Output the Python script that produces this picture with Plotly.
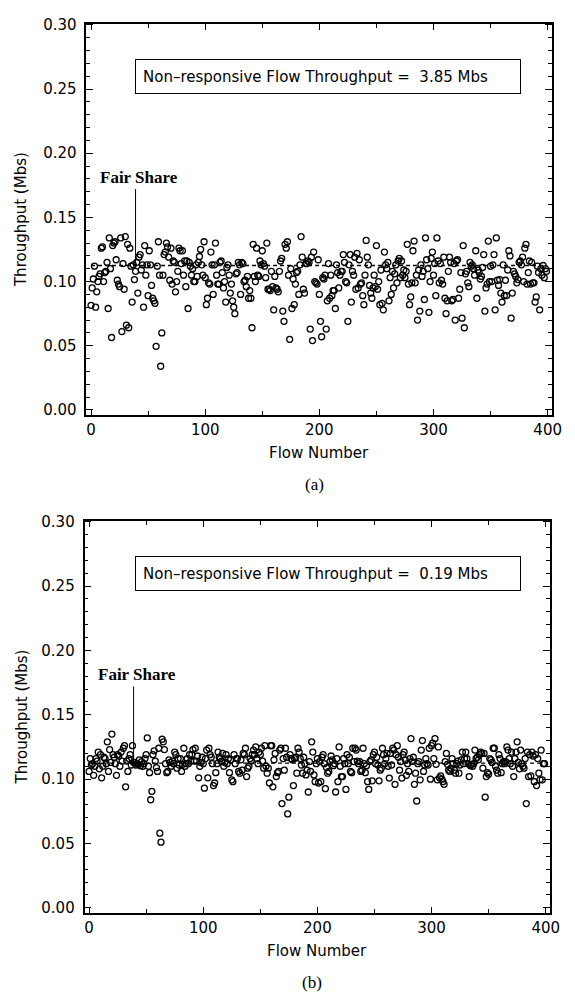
import plotly.graph_objects as go

# ---------------- data ----------------
flows = list(range(400))

throughput_a = [
    0.0815, 0.095, 0.102, 0.112, 0.080, 0.092, 0.100, 0.104, 0.106, 0.126,
    0.127, 0.100, 0.107, 0.108, 0.115, 0.079, 0.134, 0.110, 0.0564, 0.128,
    0.130, 0.131, 0.117, 0.101, 0.098, 0.096, 0.134, 0.061, 0.114, 0.094,
    0.135, 0.066, 0.129, 0.064, 0.126, 0.112, 0.084, 0.113, 0.1015, 0.108,
    0.115, 0.091, 0.119, 0.121, 0.109, 0.113, 0.080, 0.128, 0.105, 0.113,
    0.089, 0.124, 0.113, 0.097, 0.087, 0.085, 0.083, 0.0495, 0.112, 0.131,
    0.105, 0.034, 0.060, 0.105, 0.121, 0.123, 0.130, 0.127, 0.119, 0.101,
    0.126, 0.098, 0.116, 0.115, 0.092, 0.100, 0.108, 0.126, 0.124, 0.114,
    0.124, 0.105, 0.116, 0.096, 0.116, 0.079, 0.115, 0.112, 0.105, 0.110,
    0.100, 0.100, 0.113, 0.104, 0.115, 0.1195, 0.125, 0.113, 0.105, 0.131,
    0.103, 0.082, 0.087, 0.099, 0.098, 0.123, 0.113, 0.090, 0.113, 0.130,
    0.105, 0.098, 0.098, 0.115, 0.116, 0.107, 0.095, 0.100, 0.084, 0.111,
    0.113, 0.105, 0.091, 0.098, 0.085, 0.080, 0.075, 0.106, 0.107, 0.115,
    0.113, 0.090, 0.115, 0.114, 0.100, 0.101, 0.096, 0.104, 0.087, 0.093,
    0.087, 0.064, 0.129, 0.104, 0.100, 0.126, 0.105, 0.104, 0.116, 0.113,
    0.124, 0.114, 0.112, 0.103, 0.130, 0.094, 0.094, 0.093, 0.108, 0.096,
    0.078, 0.104, 0.095, 0.094, 0.092, 0.108, 0.116, 0.118, 0.077, 0.069,
    0.129, 0.126, 0.131, 0.105, 0.055, 0.110, 0.079, 0.102, 0.082, 0.098,
    0.107, 0.108, 0.090, 0.113, 0.135, 0.119, 0.094, 0.091, 0.114, 0.114,
    0.116, 0.115, 0.063, 0.119, 0.054, 0.123, 0.100, 0.099, 0.098, 0.117,
    0.090, 0.069, 0.057, 0.103, 0.102, 0.105, 0.063, 0.085, 0.114, 0.087,
    0.105, 0.089, 0.093, 0.093, 0.079, 0.113, 0.107, 0.095, 0.105, 0.108,
    0.108, 0.121, 0.115, 0.100, 0.099, 0.069, 0.113, 0.121, 0.084, 0.108,
    0.105, 0.119, 0.094, 0.122, 0.095, 0.117, 0.098, 0.099, 0.089, 0.082,
    0.105, 0.132, 0.119, 0.113, 0.097, 0.091, 0.087, 0.095, 0.105, 0.096,
    0.128, 0.094, 0.100, 0.082, 0.109, 0.083, 0.078, 0.123, 0.113, 0.110,
    0.115, 0.085, 0.103, 0.090, 0.108, 0.095, 0.106, 0.113, 0.099, 0.116,
    0.118, 0.103, 0.116, 0.105, 0.109, 0.103, 0.108, 0.129, 0.098, 0.082,
    0.088, 0.099, 0.124, 0.1315, 0.099, 0.105, 0.070, 0.109, 0.077, 0.113,
    0.104, 0.108, 0.086, 0.134, 0.117, 0.110, 0.076, 0.100, 0.118, 0.123,
    0.105, 0.114, 0.089, 0.134, 0.116, 0.099, 0.114, 0.101, 0.098, 0.119,
    0.087, 0.075, 0.085, 0.108, 0.119, 0.115, 0.085, 0.086, 0.114, 0.070,
    0.116, 0.117, 0.087, 0.094, 0.107, 0.0715, 0.128, 0.064, 0.106, 0.108,
    0.099, 0.096, 0.115, 0.112, 0.113, 0.110, 0.105, 0.124, 0.087, 0.109,
    0.107, 0.102, 0.104, 0.111, 0.121, 0.077, 0.095, 0.098, 0.1315, 0.100,
    0.112, 0.100, 0.113, 0.121, 0.078, 0.134, 0.101, 0.097, 0.1015, 0.091,
    0.084, 0.113, 0.089, 0.101, 0.089, 0.109, 0.124, 0.120, 0.0715, 0.091,
    0.108, 0.106, 0.104, 0.099, 0.1015, 0.115, 0.116, 0.113, 0.119, 0.100,
    0.126, 0.129, 0.098, 0.107, 0.116, 0.098, 0.115, 0.099, 0.099, 0.084,
    0.088, 0.112, 0.107, 0.078, 0.110, 0.105, 0.1125, 0.103, 0.110, 0.108,
]

throughput_b = [
    0.106, 0.116, 0.111, 0.112, 0.103, 0.110, 0.116, 0.114, 0.121, 0.108,
    0.119, 0.101, 0.110, 0.117, 0.116, 0.112, 0.129, 0.106, 0.123, 0.113,
    0.135, 0.119, 0.117, 0.112, 0.103, 0.119, 0.118, 0.110, 0.121, 0.114,
    0.124, 0.126, 0.094, 0.114, 0.106, 0.116, 0.119, 0.111, 0.126, 0.113,
    0.113, 0.111, 0.112, 0.1115, 0.115, 0.1105, 0.1136, 0.110, 0.112, 0.116,
    0.119, 0.132, 0.110, 0.105, 0.084, 0.0905, 0.119, 0.122, 0.114, 0.109,
    0.106, 0.124, 0.058, 0.051, 0.131, 0.129, 0.123, 0.112, 0.105, 0.106,
    0.115, 0.113, 0.110, 0.114, 0.112, 0.121, 0.119, 0.1085, 0.116, 0.111,
    0.116, 0.106, 0.1115, 0.124, 0.110, 0.112, 0.116, 0.112, 0.119, 0.114,
    0.119, 0.123, 0.114, 0.124, 0.114, 0.118, 0.101, 0.110, 0.113, 0.117,
    0.112, 0.093, 0.116, 0.1226, 0.101, 0.124, 0.119, 0.117, 0.112, 0.095,
    0.097, 0.105, 0.112, 0.121, 0.117, 0.116, 0.114, 0.120, 0.110, 0.113,
    0.119, 0.112, 0.116, 0.105, 0.115, 0.0995, 0.098, 0.119, 0.112, 0.116,
    0.116, 0.106, 0.1046, 0.115, 0.107, 0.120, 0.119, 0.124, 0.102, 0.1085,
    0.110, 0.116, 0.114, 0.119, 0.1226, 0.119, 0.125, 0.116, 0.112, 0.121,
    0.119, 0.124, 0.114, 0.1085, 0.126, 0.110, 0.1046, 0.1085, 0.097, 0.126,
    0.126, 0.094, 0.115, 0.120, 0.102, 0.105, 0.106, 0.1226, 0.124, 0.081,
    0.116, 0.107, 0.124, 0.117, 0.073, 0.086, 0.119, 0.116, 0.115, 0.095,
    0.116, 0.117, 0.1046, 0.124, 0.121, 0.116, 0.111, 0.1046, 0.117, 0.112,
    0.1033, 0.107, 0.090, 0.1136, 0.106, 0.129, 0.121, 0.1033, 0.098, 0.112,
    0.116, 0.097, 0.1136, 0.098, 0.117, 0.119, 0.112, 0.0926, 0.109, 0.1046,
    0.106, 0.1136, 0.118, 0.115, 0.1105, 0.112, 0.090, 0.116, 0.098, 0.125,
    0.110, 0.102, 0.102, 0.116, 0.112, 0.092, 0.119, 0.112, 0.117, 0.106,
    0.105, 0.124, 0.1136, 0.124, 0.1226, 0.114, 0.112, 0.1136, 0.106, 0.107,
    0.124, 0.112, 0.105, 0.1105, 0.098, 0.092, 0.1136, 0.115, 0.0987, 0.119,
    0.121, 0.112, 0.117, 0.111, 0.0987, 0.107, 0.1085, 0.124, 0.119, 0.112,
    0.116, 0.120, 0.110, 0.1008, 0.120, 0.111, 0.124, 0.1226, 0.096, 0.119,
    0.126, 0.117, 0.107, 0.1136, 0.1008, 0.119, 0.121, 0.115, 0.103, 0.112,
    0.106, 0.116, 0.1315, 0.1136, 0.117, 0.096, 0.1046, 0.083, 0.112, 0.1136,
    0.0995, 0.1226, 0.130, 0.106, 0.111, 0.116, 0.112, 0.111, 0.124, 0.100,
    0.126, 0.128, 0.116, 0.1315, 0.1115, 0.0995, 0.125, 0.101, 0.1025, 0.100,
    0.098, 0.096, 0.1136, 0.120, 0.1115, 0.107, 0.106, 0.1085, 0.116, 0.112,
    0.107, 0.1046, 0.112, 0.114, 0.1046, 0.111, 0.115, 0.121, 0.112, 0.116,
    0.121, 0.116, 0.112, 0.102, 0.1105, 0.1115, 0.110, 0.112, 0.1226, 0.116,
    0.117, 0.115, 0.119, 0.121, 0.120, 0.1085, 0.120, 0.086, 0.102, 0.105,
    0.1038, 0.116, 0.115, 0.113, 0.124, 0.124, 0.110, 0.107, 0.1046, 0.119,
    0.116, 0.105, 0.112, 0.1136, 0.112, 0.1136, 0.125, 0.1226, 0.116, 0.112,
    0.121, 0.110, 0.102, 0.116, 0.121, 0.129, 0.113, 0.108, 0.1226, 0.112,
    0.110, 0.1085, 0.116, 0.081, 0.121, 0.102, 0.119, 0.1026, 0.121, 0.118,
    0.098, 0.119, 0.095, 0.116, 0.1046, 0.0995, 0.1226, 0.0995, 0.112, 0.112,
]

fair_share = 0.1125
fair_share_label_top = 0.172
fair_share_flow = 39
nonresponsive_mbs = ["3.85", "0.19"]
panel_captions = ["(a)", "(b)"]
y_tick_vals = [0.00, 0.05, 0.10, 0.15, 0.20, 0.25, 0.30]
x_tick_vals = [0, 100, 200, 300, 400]

# ---------------- layout ----------------
W, H = 575, 996
SANS = "DejaVu Sans"
SERIF = "Liberation Serif"

panels = [
    dict(left=88, right=562, top=16, bottom=412, series=throughput_a),
    dict(left=86, right=560, top=519, bottom=916, series=throughput_b),
]

fig = go.Figure()
annotations = []
shapes = []
layout_axes = {}


def px_x(p):
    return p / W


def px_y(p):
    return 1 - p / H


for i, pnl in enumerate(panels):
    n = "" if i == 0 else str(i + 1)
    xa, ya = "x" + n, "y" + n
    fig.add_trace(go.Scatter(
        x=flows, y=pnl["series"], mode="markers", xaxis=xa, yaxis=ya,
        marker=dict(symbol="circle-open", size=6, color="black",
                    line=dict(width=1.3, color="black")),
        hoverinfo="skip"))
    fig.add_trace(go.Scatter(
        x=[flows[0], flows[-1]], y=[fair_share, fair_share], mode="lines",
        xaxis=xa, yaxis=ya,
        line=dict(color="black", width=1.3, dash="4px,3px"),
        hoverinfo="skip"))

    common = dict(showline=True, linecolor="black", linewidth=1.6,
                  mirror="ticks", ticks="inside", tickcolor="black",
                  tickwidth=1.2, showgrid=False, zeroline=False,
                  tickfont=dict(family=SANS, size=15, color="black"))
    layout_axes["xaxis" + n] = dict(
        common, domain=[px_x(pnl["left"]), px_x(pnl["right"])],
        range=[-4, 404], tickvals=x_tick_vals, ticklen=6,
        minor=dict(dtick=50, tick0=0, ticklen=4, ticks="inside",
                   tickcolor="black", tickwidth=1),
        anchor=ya)
    layout_axes["yaxis" + n] = dict(
        common, domain=[px_y(pnl["bottom"]), px_y(pnl["top"])],
        range=[-0.004, 0.3008], tickvals=y_tick_vals, tickformat=".2f",
        ticklen=7, ticklabelstandoff=5,
        minor=dict(dtick=0.01, tick0=0, ticklen=4, ticks="inside",
                   tickcolor="black", tickwidth=1),
        anchor=xa)

    # Fair share marker
    shapes.append(dict(type="line", xref=xa, yref=ya,
                       x0=fair_share_flow, x1=fair_share_flow,
                       y0=fair_share, y1=fair_share_label_top,
                       line=dict(color="black", width=1)))
    annotations.append(dict(text="<b>Fair Share</b>", xref=xa, yref=ya,
                            x=fair_share_flow + 3, y=fair_share_label_top,
                            yanchor="bottom", xanchor="center", showarrow=False,
                            font=dict(family=SERIF, size=17, color="black")))

    # Non-responsive flow box
    annotations.append(dict(
        text="Non\u2013responsive Flow Throughput =  " + nonresponsive_mbs[i] + " Mbs",
        xref="paper", yref="paper",
        x=px_x(137), y=px_y(pnl["top"] + 36), xanchor="left", yanchor="top",
        showarrow=False, align="left", width=370, height=19, borderpad=7,
        bordercolor="black", borderwidth=1, bgcolor="white",
        font=dict(family=SANS, size=15, color="black")))

    # axis titles and captions
    annotations.append(dict(text="Throughput (Mbs)", xref="paper", yref="paper",
                            x=px_x(22), y=px_y((pnl["top"] + pnl["bottom"]) / 2),
                            xanchor="center", yanchor="middle",
                            textangle=-90, showarrow=False,
                            font=dict(family=SANS, size=15, color="black")))
    annotations.append(dict(text="Flow Number", xref="paper", yref="paper",
                            x=px_x((pnl["left"] + pnl["right"]) / 2),
                            y=px_y(pnl["bottom"] + 38),
                            xanchor="center", yanchor="middle", showarrow=False,
                            font=dict(family=SANS, size=15, color="black")))
    annotations.append(dict(text=panel_captions[i], xref="paper", yref="paper",
                            x=px_x((pnl["left"] + pnl["right"]) / 2 - 5),
                            y=px_y(pnl["bottom"] + 70),
                            xanchor="center", yanchor="middle", showarrow=False,
                            font=dict(family=SERIF, size=17, color="black")))

fig.update_layout(
    width=W, height=H, margin=dict(l=0, r=0, t=0, b=0),
    paper_bgcolor="white", plot_bgcolor="white", showlegend=False,
    annotations=annotations, shapes=shapes, **layout_axes)

fig.write_html("out.html")
